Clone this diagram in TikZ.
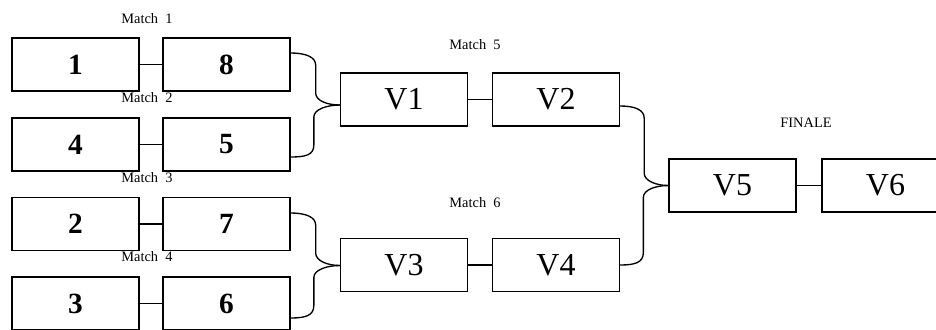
\documentclass[tikz,border=0pt]{standalone}
\usepackage{fontspec}
\setmainfont{Liberation Serif}
\usetikzlibrary{calc}

\tikzset{
  seed/.style={draw, line width=1pt, minimum width=95.25pt, minimum height=39.75pt,
    inner sep=0pt, font=\bfseries\fontsize{22}{24}\selectfont},
  winner/.style={draw, line width=1pt, minimum width=95.25pt, minimum height=39.75pt,
    inner sep=0pt, font=\fontsize{24}{26}\selectfont},
  matchlbl/.style={inner sep=0.75pt, font=\fontsize{10.8}{12}\selectfont},
  link/.style={line width=1pt},
}

\begin{document}
\begin{tikzpicture}[x=0.75pt,y=0.75pt,yscale=-1,xscale=1]
    \useasboundingbox (0,0) rectangle (936,329);

    % Seeds
    \node [seed] (b1) at (75.5,64.5) {1};
    \node [seed] (b8) at (226.5,64.5) {8};
    \node [seed] (b4) at (75.5,144.5) {4};
    \node [seed] (b5) at (226.5,144.5) {5};
    \node [seed] (b2) at (75.5,224) {2};
    \node [seed] (b7) at (226.5,224) {7};
    \node [seed] (b3) at (75.5,303.5) {3};
    \node [seed] (b6) at (226.5,303.5) {6};
    % Winners
    \node [winner] (v1) at (404,99.5) {V1};
    \node [winner] (v2) at (556,99.5) {V2};
    \node [winner] (v3) at (404,265) {V3};
    \node [winner] (v4) at (556,265) {V4};
    \node [winner] (v5) at (732.5,185.5) {V5};
    \node [winner] (v6) at (885.5,185.5) {V6};

    % Text Node
    \node [matchlbl] (m1) at (147,19) {Match~~1};
    \node [matchlbl] (m2) at (147,98) {Match~~2};
    \node [matchlbl] (m3) at (147,178) {Match~~3};
    \node [matchlbl] (m4) at (147,257) {Match~~4};
    \node [matchlbl] (m5) at (475,45) {Match~~5};
    \node [matchlbl] (m6) at (475,203) {Match~~6};
    \node [matchlbl] (fin) at (806,123) {FINALE};

    % Pairings
    \draw [link] (b1) -- (b8);
    \draw [link] (b4) -- (b5);
    \draw [link] (b2) -- (b7);
    \draw [link] (b3) -- (b6);
    \draw [link] (v1) -- (v2);
    \draw [link] (v3) -- (v4);
    \draw [link] (v5) -- (v6);

    % Brackets
    \draw [link] ($(b8.east)+(0,-11.5)$) .. controls +(15,0) and +(0,-8) .. ++(25,12) -- ++(0,28)
        .. controls +(0,8) and +(-12,0) .. ($(v1.west)+(0,5.5)$);
    \draw [link] ($(v1.west)+(0,5.5)$) .. controls +(-12,0) and +(0,-8) .. ++(-26,12) -- ++(0,28)
        .. controls +(0,10) and +(15,0) .. ($(b5.east)+(0,12.5)$);
    \draw [link] ($(b7.east)+(0,-11)$) .. controls +(15,0) and +(0,-8) .. ++(25,12) -- ++(0,28)
        .. controls +(0,8) and +(-12,0) .. ($(v3.west)+(0,0.5)$);
    \draw [link] ($(v3.west)+(0,0.5)$) .. controls +(-12,0) and +(0,-8) .. ++(-26,12) -- ++(0,28)
        .. controls +(0,10) and +(15,0) .. ($(b6.east)+(0,14.5)$);
    \draw [link] ($(v2.east)+(0,6.5)$) .. controls +(15,0) and +(0,-8) .. ++(24,12) -- ++(0,55)
        .. controls +(0,8) and +(-12,0) .. (v5.west);
    \draw [link] (v5.west) .. controls +(-12,0) and +(0,-8) .. ++(-25,12) -- ++(0,55)
        .. controls +(0,10) and +(15,0) .. (v4.east);
\end{tikzpicture}
\end{document}
